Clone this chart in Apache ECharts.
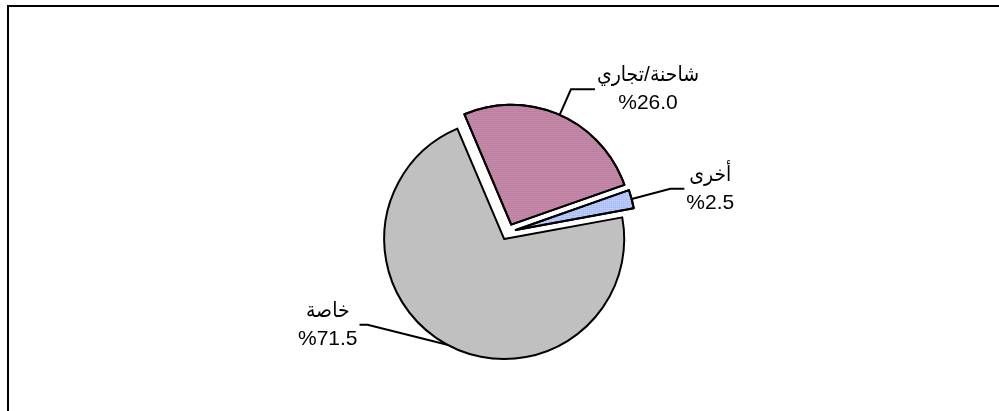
<!DOCTYPE html>
<html>
<head>
<meta charset="utf-8">
<script src="https://cdn.jsdelivr.net/npm/echarts@6/dist/echarts.min.js"></script>
<style>
  html, body { margin: 0; padding: 0; background: #fff; }
  #container-pie { width: 999px; height: 411px; }
</style>
</head>
<body>
<div id="container-pie"></div>
<script>
// slices, clockwise from the top-left
const categories = ['شاحنة/تجاري', 'أخرى', 'خاصة'];
const shares = [26.0, 2.5, 71.5];
const sliceColors = ['#cc94b3', '#a9bdf8', '#c0c0c0'];

const decals = [
  { symbol: 'rect', symbolSize: 1, dashArrayX: [1, 0], dashArrayY: [1, 1], color: 'rgba(140,60,100,0.35)' },
  { symbol: 'rect', symbolSize: 1, dashArrayX: [1, 1], dashArrayY: [1, 1], color: 'rgba(255,255,255,0.45)' },
  null
];
// leader line lengths per slice, and how far each label is lifted
const leaders = [[28, 24], [40, 14], [8, 84]];
const labelLift = [0, 0, 27];

let myChart = echarts.init(document.getElementById('container-pie'), null, { renderer: 'canvas' });

const font = 'Liberation Sans, Arial, sans-serif';
const arabicFont = 'Liberation Sans, DejaVu Sans Condensed, DejaVu Sans, sans-serif';

let option = {
  backgroundColor: '#fff',
  animation: false,
  graphic: [
    {
      type: 'rect',
      shape: { x: 8, y: 6, width: 1100, height: 500 },
      style: { fill: 'none', stroke: '#000', lineWidth: 2 },
      silent: true
    }
  ],
  series: [
    {
      type: 'pie',
      center: [508, 232],
      radius: 120,
      startAngle: 113,
      clockwise: true,
      selectedMode: 'multiple',
      selectedOffset: 8,
      avoidLabelOverlap: false,
      emphasis: { disabled: true },
      itemStyle: { borderColor: '#000', borderWidth: 2 },
      label: {
        show: true,
        position: 'outside',
        distanceToLabelLine: 2,
        color: '#000',
        fontFamily: font,
        fontSize: 21,
        formatter: (p) => '{n|' + p.name + '}\n{v|%' + p.value.toFixed(1) + '}',
        rich: {
          n: { align: 'center', fontSize: 21, lineHeight: 28, fontFamily: arabicFont, color: '#000' },
          v: { align: 'center', fontSize: 21, lineHeight: 28, fontFamily: font, color: '#000' }
        }
      },
      labelLine: { show: true, lineStyle: { color: '#000', width: 2 } },
      // bend the leader of a lifted label up to the text
      labelLayout: function (params) {
        const lift = labelLift[params.dataIndex];
        const pts = params.labelLinePoints;
        if (!lift || !pts) return {};
        const endX = pts[2][0];
        const newY = pts[2][1] - lift;
        const dir = pts[1][0] > endX ? 1 : -1;
        return {
          labelLinePoints: [pts[0], [endX + dir * 8, newY], [endX, newY]]
        };
      },
      data: categories.map((name, i) => ({
        name: name,
        value: shares[i],
        selected: true,
        itemStyle: decals[i] ? { color: sliceColors[i], decal: decals[i] } : { color: sliceColors[i] },
        label: { padding: [0, 0, labelLift[i] * 2, 0] },
        labelLine: { length: leaders[i][0], length2: leaders[i][1] }
      }))
    }
  ]
};

option && myChart.setOption(option);
</script>
</body>
</html>
